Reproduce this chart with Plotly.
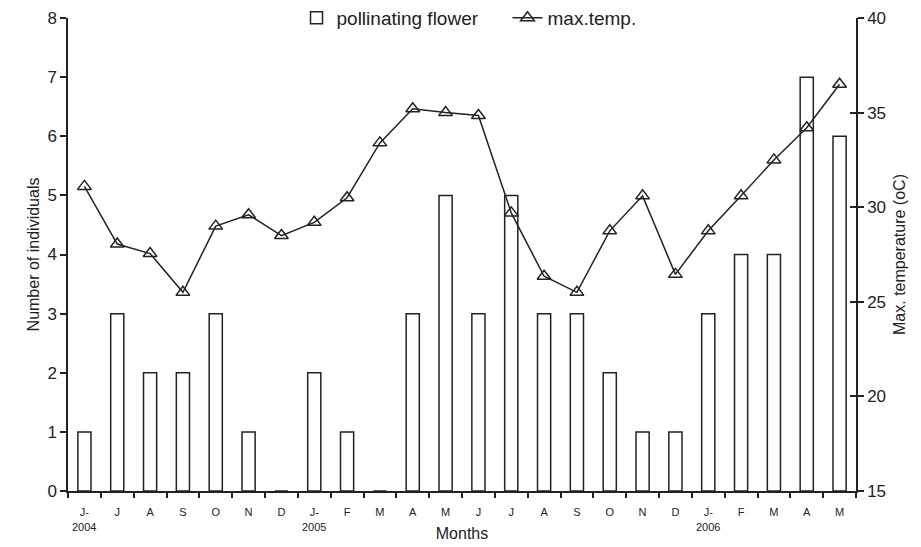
import plotly.graph_objects as go

months = ["J-", "J", "A", "S", "O", "N", "D", "J-", "F", "M", "A", "M",
          "J", "J", "A", "S", "O", "N", "D", "J-", "F", "M", "A", "M"]
years = ["2004", "", "", "", "", "", "", "2005", "", "", "", "",
         "", "", "", "", "", "", "", "2006", "", "", "", ""]
flowers = [1, 3, 2, 2, 3, 1, 0, 2, 1, 0, 3, 5, 3, 5, 3, 3, 2, 1, 1, 3, 4, 4, 7, 6]
max_temp = [31.1, 28.05, 27.55, 25.5, 29.0, 29.6, 28.5, 29.2, 30.5, 33.4, 35.2, 35.0,
            34.85, 29.7, 26.35, 25.5, 28.75, 30.6, 26.45, 28.75, 30.6, 32.5, 34.2, 36.5]

x = list(range(len(months)))

FONT = "Liberation Sans, Arial, sans-serif"
INK = "#222"

fig = go.Figure()
fig.add_trace(go.Bar(
    x=x, y=flowers, name="pollinating flower", width=0.4,
    marker=dict(color="white", line=dict(color=INK, width=1.5)),
    yaxis="y",
))
fig.add_trace(go.Scatter(
    x=x, y=max_temp, name="max.temp.", mode="lines+markers",
    line=dict(color=INK, width=1.5),
    marker=dict(symbol="triangle-up-open", size=12, color=INK, line=dict(width=1.5)),
    yaxis="y2",
))
# invisible trace to activate yaxis3 (crossing ticks on the right axis)
fig.add_trace(go.Scatter(x=[x[0]], y=[max_temp[0]], yaxis="y3", mode="markers",
                         marker=dict(opacity=0), showlegend=False, hoverinfo="skip"))

annotations = [
    dict(x=xi, y=-0.076, xref="x", yref="paper", text=yr, showarrow=False,
         font=dict(size=11, family=FONT, color=INK), xanchor="center", yanchor="middle")
    for xi, yr in zip(x, years) if yr
]

fig.update_layout(
    width=921, height=547,
    margin=dict(l=68, r=65, t=18, b=56, autoexpand=False),
    paper_bgcolor="white", plot_bgcolor="white",
    font=dict(family=FONT, color=INK),
    showlegend=True,
    legend=dict(orientation="h", x=0.29, xanchor="left", y=1.0, yanchor="middle",
                font=dict(size=19, family=FONT, color=INK), bgcolor="rgba(0,0,0,0)",
                tracegroupgap=0, entrywidth=166),
    annotations=annotations,
    xaxis=dict(
        range=[-0.5, len(months) - 0.5], tickmode="array", tickvals=x, ticktext=months,
        ticks="", ticklen=0, showline=True, linecolor=INK, linewidth=1.5,
        tickfont=dict(size=11), showgrid=False, zeroline=False, ticklabelstandoff=10,
        minor=dict(tick0=-0.5, dtick=1, ticks="outside", ticklen=5, tickcolor=INK, tickwidth=1.5),
        title=dict(text="Months", font=dict(size=16), standoff=11),
    ),
    yaxis=dict(
        range=[0, 8], dtick=1, ticks="outside", ticklen=6, tickwidth=1.5, tickcolor=INK,
        showline=True, linecolor=INK, linewidth=1.5, showgrid=False, zeroline=False,
        tickfont=dict(size=17),
        title=dict(text="Number of individuals", font=dict(size=16), standoff=4),
    ),
    yaxis2=dict(
        range=[15, 40], dtick=5, overlaying="y", side="right", anchor="x",
        ticks="outside", ticklen=6, tickwidth=1.5, tickcolor=INK,
        showline=True, linecolor=INK, linewidth=1.5, showgrid=False, zeroline=False,
        tickfont=dict(size=17),
        title=dict(text="Max. temperature (oC)", font=dict(size=16), standoff=9),
    ),
    yaxis3=dict(
        range=[15, 40], dtick=5, overlaying="y", side="right", anchor="x",
        ticks="inside", ticklen=6, tickwidth=1.5, tickcolor=INK,
        showline=False, showgrid=False, zeroline=False, showticklabels=False,
    ),
)

fig.write_html("out.html", config={"displayModeBar": False},
               post_script="document.body.style.margin='0';document.body.style.overflow='hidden';")
